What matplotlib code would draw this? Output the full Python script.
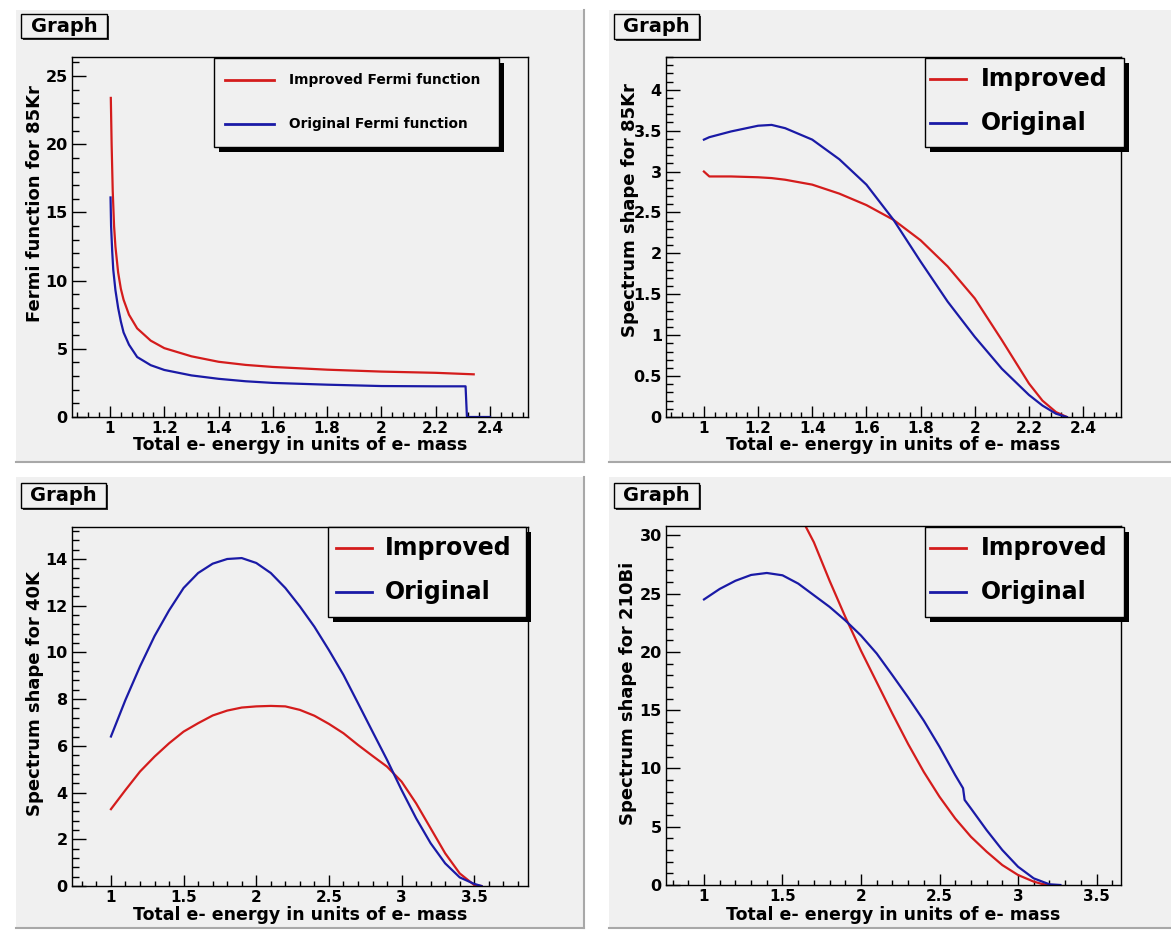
import matplotlib.pyplot as plt
from matplotlib.patches import Rectangle
from matplotlib.lines import Line2D
from matplotlib.ticker import MultipleLocator, FormatStrFormatter

# ---- data ----
# 85Kr Fermi function
fermi_imp_x = [1.003, 1.006, 1.01, 1.015, 1.02, 1.03, 1.04, 1.05, 1.07, 1.1, 1.15,
               1.2, 1.3, 1.4, 1.5, 1.6, 1.8, 2.0, 2.2, 2.34]
fermi_imp_y = [23.4, 20.0, 16.6, 14.0, 12.5, 10.6, 9.4, 8.6, 7.5, 6.5, 5.6,
               5.05, 4.45, 4.05, 3.82, 3.67, 3.47, 3.33, 3.24, 3.13]
fermi_org_x = [1.002, 1.004, 1.008, 1.012, 1.02, 1.03, 1.04, 1.05, 1.07, 1.1, 1.15,
               1.2, 1.3, 1.4, 1.5, 1.6, 1.8, 2.0, 2.2, 2.31, 2.315, 2.4]
fermi_org_y = [16.1, 14.0, 12.2, 10.8, 9.3, 8.0, 7.0, 6.2, 5.3, 4.4, 3.8,
               3.45, 3.05, 2.8, 2.62, 2.5, 2.37, 2.27, 2.25, 2.25, 0.0, 0.0]

# 85Kr spectrum shape
kr_x = [1.0, 1.02, 1.1, 1.2, 1.25, 1.3, 1.4, 1.5, 1.6, 1.7, 1.8, 1.9, 2.0,
        2.1, 2.2, 2.25, 2.3, 2.34]
kr_imp = [3.0, 2.94, 2.94, 2.93, 2.92, 2.9, 2.84, 2.73, 2.59, 2.41, 2.16, 1.84, 1.45,
          0.94, 0.41, 0.2, 0.06, 0.0]
kr_org = [3.39, 3.42, 3.49, 3.56, 3.57, 3.53, 3.39, 3.15, 2.84, 2.41, 1.9, 1.41, 0.98,
          0.59, 0.27, 0.14, 0.04, 0.0]

# 40K spectrum shape
k_x = [1.0, 1.1, 1.2, 1.3, 1.4, 1.5, 1.6, 1.7, 1.8, 1.9, 2.0, 2.1, 2.2, 2.3, 2.4,
       2.5, 2.6, 2.7, 2.8, 2.9, 3.0, 3.1, 3.2, 3.3, 3.4, 3.5, 3.55]
k_imp = [3.29, 4.11, 4.9, 5.54, 6.11, 6.61, 6.97, 7.3, 7.51, 7.64, 7.69, 7.71, 7.69,
         7.54, 7.29, 6.94, 6.54, 6.04, 5.57, 5.11, 4.47, 3.54, 2.47, 1.4, 0.54, 0.04, 0.0]
k_org = [6.4, 7.97, 9.4, 10.7, 11.8, 12.76, 13.4, 13.8, 14.0, 14.04, 13.83, 13.4, 12.76,
         11.97, 11.1, 10.1, 9.04, 7.83, 6.61, 5.4, 4.11, 2.9, 1.83, 0.97, 0.37, 0.09, 0.0]

# 210Bi spectrum shape
bi_org_x = [1.0, 1.1, 1.2, 1.3, 1.4, 1.5, 1.6, 1.7, 1.8, 1.9, 2.0, 2.1, 2.2, 2.3, 2.4,
            2.5, 2.6, 2.65, 2.66, 2.7, 2.8, 2.9, 3.0, 3.1, 3.2, 3.27]
bi_org_y = [24.5, 25.4, 26.1, 26.6, 26.77, 26.57, 25.86, 24.86, 23.86, 22.7, 21.4, 19.86,
            18.0, 16.1, 14.1, 11.86, 9.43, 8.3, 7.3, 6.57, 4.71, 3.0, 1.57, 0.57, 0.06, 0.0]
bi_imp_x = [1.6, 1.65, 1.7, 1.8, 1.9, 2.0, 2.1, 2.2, 2.3, 2.4, 2.5, 2.6, 2.7, 2.8, 2.9,
            3.0, 3.1, 3.15, 3.2]
bi_imp_y = [32.2, 30.7, 29.4, 26.1, 23.0, 20.1, 17.4, 14.7, 12.1, 9.7, 7.57, 5.71, 4.14,
            2.86, 1.71, 0.86, 0.29, 0.1, 0.0]

legend_long = ['Improved Fermi function', 'Original Fermi function']
legend_short = ['Improved', 'Original']
xtitle = 'Total e- energy in units of e- mass'

RED = '#d41c1c'
BLUE = '#1a1aa6'
PAD = '#f0f0f0'

plt.rcParams['font.family'] = 'DejaVu Sans'
plt.rcParams['font.weight'] = 'bold'

W, H = 1171, 932
fig = plt.figure(figsize=(W / 100, H / 100), dpi=100)
fig.patch.set_facecolor('white')


def fx(x):
    return x / W


def fy(y):
    return 1 - y / H


def rect(x0, y0, x1, y1, **kw):
    r = Rectangle((fx(x0), fy(y1)), (x1 - x0) / W, (y1 - y0) / H,
                  transform=fig.transFigure, **kw)
    fig.add_artist(r)


def pad(x0, y0, x1, y1):
    rect(x0, y0, x1, y1, facecolor=PAD, edgecolor='none', zorder=-3)
    fig.add_artist(Line2D([fx(x1), fx(x1)], [fy(y0), fy(y1)], color='#a8a8a8', lw=1.5, zorder=-2))
    fig.add_artist(Line2D([fx(x0), fx(x1)], [fy(y1), fy(y1)], color='#a8a8a8', lw=1.5, zorder=-2))


def graph_box(x0, y0, x1, y1):
    rect(x0 + 2, y0 + 2, x1 + 2, y1 + 2, facecolor='#303030', edgecolor='none', zorder=1)
    rect(x0, y0, x1, y1, facecolor=PAD, edgecolor='black', lw=1, zorder=2)
    fig.text(fx((x0 + x1) / 2), fy((y0 + y1) / 2), 'Graph', fontsize=14,
             ha='center', va='center', zorder=3)


def legend(x0, y0, x1, y1, labels, fs, lx0, lx1, tx, ys):
    rect(x0 + 5, y0 + 5, x1 + 5, y1 + 5, facecolor='black', edgecolor='none', zorder=4)
    rect(x0, y0, x1, y1, facecolor=PAD, edgecolor='black', lw=1, zorder=5)
    for lab, col, yy in zip(labels, [RED, BLUE], ys):
        fig.add_artist(Line2D([fx(lx0), fx(lx1)], [fy(yy), fy(yy)], color=col, lw=2, zorder=6))
        fig.text(fx(tx), fy(yy), lab, fontsize=fs, ha='left', va='center', zorder=6)


def make_axes(x0, y0, x1, y1, xlim, ylim, xmaj, xmin, ymaj, ymin):
    ax = fig.add_axes([fx(x0), fy(y1), (x1 - x0) / W, (y1 - y0) / H])
    ax.set_facecolor('none')
    for s in ax.spines.values():
        s.set_linewidth(1.0)
        s.set_color('black')
    ax.set_xlim(xlim)
    ax.set_ylim(ylim)
    ax.xaxis.set_major_locator(MultipleLocator(xmaj))
    ax.xaxis.set_minor_locator(MultipleLocator(xmin))
    ax.yaxis.set_major_locator(MultipleLocator(ymaj))
    ax.yaxis.set_minor_locator(MultipleLocator(ymin))
    ax.xaxis.set_major_formatter(FormatStrFormatter('%g'))
    ax.yaxis.set_major_formatter(FormatStrFormatter('%g'))
    ax.tick_params(which='both', direction='in', top=False, right=False, width=1, pad=3)
    ax.tick_params(axis='x', which='major', length=7.8, labelsize=11)
    ax.tick_params(axis='x', which='minor', length=3.9)
    ax.tick_params(axis='y', which='major', length=9.9, labelsize=11.5)
    ax.tick_params(axis='y', which='minor', length=4.9)
    return ax


# pads
pad(16, 10, 584, 462)
pad(609, 10, 1175, 462)
pad(16, 477, 584, 928)
pad(609, 477, 1175, 928)

graph_box(21, 14, 107, 38)
graph_box(614, 14, 699, 39)
graph_box(21, 483, 106, 508)
graph_box(614, 483, 699, 508)

# top left: Fermi function
ax1 = make_axes(72, 57, 528, 417, (0.86, 2.54), (0, 26.4), 0.2, 0.04, 5, 1)
ax1.plot(fermi_imp_x, fermi_imp_y, color=RED, lw=1.6)
ax1.plot(fermi_org_x, fermi_org_y, color=BLUE, lw=1.6)
fig.text(fx(35), fy(204), 'Fermi function for 85Kr', fontsize=13, rotation=90, ha='center', va='center')
fig.text(fx(300), fy(450), xtitle, fontsize=12.5, ha='center', va='baseline')
legend(214, 58, 499, 147, legend_long, 9.9, 225, 274, 289, [80, 124])

# top right: 85Kr spectrum
ax2 = make_axes(666, 57, 1121, 417, (0.86, 2.54), (0, 4.4), 0.2, 0.04, 0.5, 0.1)
ax2.plot(kr_x, kr_imp, color=RED, lw=1.6)
ax2.plot(kr_x, kr_org, color=BLUE, lw=1.6)
fig.text(fx(630), fy(210), 'Spectrum shape for 85Kr', fontsize=13, rotation=90, ha='center', va='center')
fig.text(fx(893), fy(450), xtitle, fontsize=12.5, ha='center', va='baseline')
legend(925, 58, 1124, 147, legend_short, 17, 930, 966, 981, [79, 123])

# bottom left: 40K spectrum
ax3 = make_axes(72, 527, 528, 886, (0.732, 3.87), (0, 15.37), 0.5, 0.1, 2, 0.4)
ax3.plot(k_x, k_imp, color=RED, lw=1.6)
ax3.plot(k_x, k_org, color=BLUE, lw=1.6)
fig.text(fx(35), fy(694), 'Spectrum shape for 40K', fontsize=13, rotation=90, ha='center', va='center')
fig.text(fx(300), fy(920), xtitle, fontsize=12.5, ha='center', va='baseline')
legend(328, 527, 526, 617, legend_short, 17, 336, 372, 385, [548, 592])

# bottom right: 210Bi spectrum
ax4 = make_axes(666, 526, 1121, 885, (0.758, 3.656), (0, 30.8), 0.5, 0.1, 5, 1)
ax4.plot(bi_imp_x, bi_imp_y, color=RED, lw=1.6)
ax4.plot(bi_org_x, bi_org_y, color=BLUE, lw=1.6)
fig.text(fx(628), fy(693), 'Spectrum shape for 210Bi', fontsize=13, rotation=90, ha='center', va='center')
fig.text(fx(893), fy(920), xtitle, fontsize=12.5, ha='center', va='baseline')
legend(925, 527, 1124, 617, legend_short, 17, 930, 966, 981, [548, 592])

fig.savefig('out.png', dpi=100, facecolor='white')
